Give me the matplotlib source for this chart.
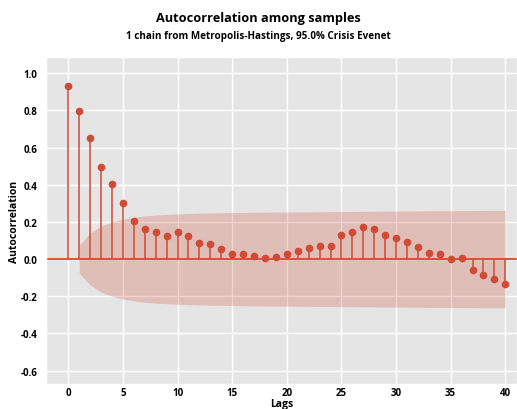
import numpy as np
import matplotlib.pyplot as plt

plt.style.use("ggplot")
plt.rcParams["font.family"] = ["Open Sans", "DejaVu Sans"]

# -------------------- DATA --------------------
lags = np.arange(0, 41)
acf = [0.93, 0.795, 0.65, 0.496, 0.403, 0.30, 0.204, 0.16, 0.145, 0.124,
       0.145, 0.124, 0.088, 0.079, 0.052, 0.025, 0.025, 0.018, 0.005, 0.013,
       0.029, 0.043, 0.057, 0.073, 0.073, 0.129, 0.147, 0.170, 0.163, 0.129,
       0.115, 0.093, 0.065, 0.032, 0.030, 0.0, 0.005, -0.059, -0.088, -0.108,
       -0.136]
# 95% band half-width for lags 1..40
band = [0.075, 0.14, 0.178, 0.20, 0.215, 0.225, 0.232, 0.237, 0.24, 0.243,
        0.245, 0.247, 0.248, 0.249, 0.25, 0.251, 0.252, 0.252, 0.253, 0.253,
        0.254, 0.254, 0.255, 0.255, 0.256, 0.256, 0.257, 0.257, 0.258, 0.258,
        0.259, 0.259, 0.26, 0.26, 0.26, 0.261, 0.261, 0.262, 0.262, 0.262]

red = "#D04A35"

# -------------------- PLOT --------------------
fig = plt.figure(figsize=(5.17, 4.10), dpi=100)
fig.patch.set_facecolor("white")
ax = fig.add_axes([0.089, 0.061, 0.911, 0.797])
ax.set_facecolor("#E5E5E5")

band = np.array(band)
ax.fill_between(lags[1:], -band, band, color=red, alpha=0.25, linewidth=0, zorder=1)
ax.axhline(0, color=red, linewidth=1.3, zorder=2)
ax.vlines(lags, 0, acf, color=red, linewidth=1.1, zorder=3)
ax.plot(lags, acf, "o", color=red, markersize=4.5, zorder=4)

ax.set_xlim(-2.04, 41.07)
ax.set_ylim(-0.672, 1.086)
ax.set_xticks(range(0, 41, 5))
ax.set_yticks(np.arange(-0.6, 1.01, 0.2))
ax.set_yticklabels([f"{v:.1f}" for v in np.arange(-0.6, 1.01, 0.2)])
ax.grid(True, color="white", linewidth=1.0)
ax.set_axisbelow(True)
ax.tick_params(length=0, labelsize=7, colors="black")
ax.tick_params(axis="x", pad=2)
ax.tick_params(axis="y", pad=6)
for lab in ax.get_xticklabels() + ax.get_yticklabels():
    lab.set_fontweight("bold")

ax.set_xlabel("Lags", fontsize=7.5, fontweight="bold", color="black")
ax.set_ylabel("Autocorrelation", fontsize=7.5, fontweight="bold", color="black")
ax.xaxis.set_label_coords(0.5, -0.042)
ax.yaxis.set_label_coords(-0.056, 0.5)

fig.text(0.5, 0.955, "Autocorrelation among samples", ha="center", va="center",
         fontsize=9.2, fontweight="bold")
fig.text(0.5, 0.91, "1 chain from Metropolis-Hastings, 95.0% Crisis Evenet",
         ha="center", va="center", fontsize=7.1, fontweight="bold")

fig.savefig("out.png", dpi=100)
